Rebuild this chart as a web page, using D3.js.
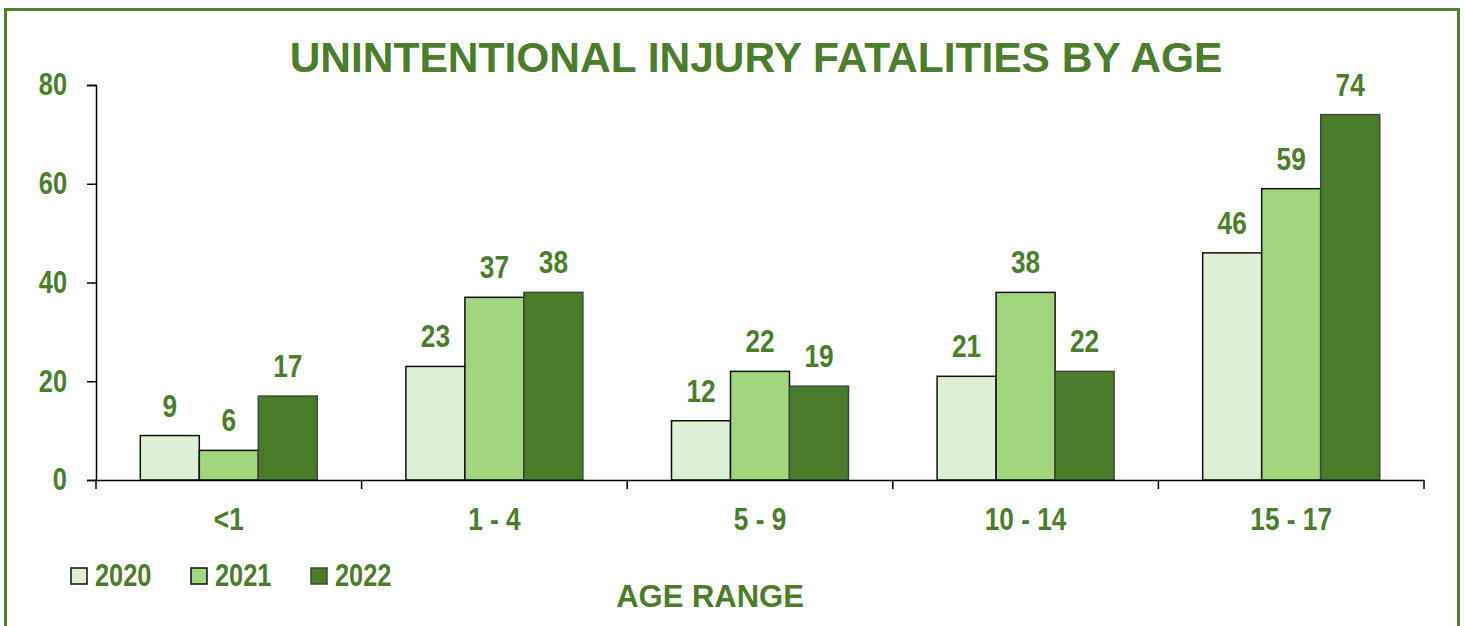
<!DOCTYPE html>
<html>
<head>
<meta charset="utf-8">
<script src="https://cdn.jsdelivr.net/npm/d3@7"></script>
<style>
  body { margin: 0; background: #fff; }
  svg { display: block; }
</style>
</head>
<body>
<script>
// data
const ageRanges = ["<1", "1 - 4", "5 - 9", "10 - 14", "15 - 17"];
const years = ["2020", "2021", "2022"];
const v2020 = [9, 23, 12, 21, 46];
const v2021 = [6, 37, 22, 38, 59];
const v2022 = [17, 38, 19, 22, 74];
const yTicks = [0, 20, 40, 60, 80];

const series = [v2020, v2021, v2022];
const fills = ["#ddf0d5", "#a1d57e", "#4a7b2a"];
const strokes = ["#111", "#111", "#3b4a3b"];
const green = "#4b7d2b";
const font = "'Liberation Sans', Arial, sans-serif";
// no narrow font installed, so squeeze the regular one
const sq = 0.82;

const width = 1465, height = 626;
const plotLeft = 96, plotRight = 1424, plotTop = 85, plotBottom = 480;

const svg = d3.select("body").append("svg")
  .attr("width", width)
  .attr("height", height)
  .attr("font-family", font)
  .attr("font-weight", "bold");

// frame (open at the bottom)
svg.append("path")
  .attr("d", `M5.5,${height} V9.5 H1458.5 V${height}`)
  .attr("fill", "none")
  .attr("stroke", "#548235")
  .attr("stroke-width", 3);

svg.append("text")
  .attr("x", 756).attr("y", 72)
  .attr("text-anchor", "middle")
  .attr("font-size", 42.5)
  .attr("fill", green)
  .text("UNINTENTIONAL INJURY FATALITIES BY AGE");

const x = d3.scaleBand().domain(ageRanges).range([plotLeft, plotRight]).padding(0);
const xs = d3.scaleBand().domain(years)
  .range([44.3, x.bandwidth() - 44.3]).padding(0);
const y = d3.scaleLinear().domain([0, 80]).range([plotBottom, plotTop]);

// bars
const groups = svg.append("g").selectAll("g")
  .data(ageRanges)
  .join("g")
  .attr("transform", d => `translate(${x(d)},0)`);

groups.selectAll("rect")
  .data((d, i) => series.map((s, k) => ({ year: years[k], k, v: s[i] })))
  .join("rect")
  .attr("x", d => xs(d.year))
  .attr("y", d => y(d.v))
  .attr("width", xs.bandwidth())
  .attr("height", d => y(0) - y(d.v))
  .attr("fill", d => fills[d.k])
  .attr("stroke", d => strokes[d.k])
  .attr("stroke-width", 1.5);

groups.selectAll("text.val")
  .data((d, i) => series.map((s, k) => ({ year: years[k], k, v: s[i] })))
  .join("text")
  .attr("class", "val")
  .attr("transform", `scale(${sq},1)`)
  .attr("x", d => (xs(d.year) + xs.bandwidth() / 2) / sq)
  .attr("y", d => y(d.v) - 19)
  .attr("text-anchor", "middle")
  .attr("font-size", 32)
  .attr("fill", green)
  .text(d => d.v);

// y axis
const yAxis = svg.append("g")
  .attr("transform", `translate(${plotLeft},0)`)
  .call(d3.axisLeft(y).tickValues(yTicks).tickSize(9).tickSizeOuter(9).tickPadding(20));
yAxis.selectAll("path, line").attr("stroke", "#000").attr("stroke-width", 1.5);
yAxis.selectAll("text")
  .attr("transform", `scale(${sq},1)`)
  .attr("x", -29 / sq)
  .attr("font-family", font)
  .attr("font-size", 31)
  .attr("fill", green);

// x axis
const xAxis = svg.append("g")
  .attr("transform", `translate(0,${plotBottom})`)
  .call(d3.axisBottom(x).tickSize(0).tickPadding(27));
xAxis.select(".domain").attr("stroke", "#000").attr("stroke-width", 1.5);
xAxis.selectAll("text")
  .attr("transform", `scale(${sq},1)`)
  .attr("font-family", font)
  .attr("font-size", 32)
  .attr("fill", green);
// category separators
svg.append("g").selectAll("line")
  .data(ageRanges.map(d => x(d)).concat([plotRight]))
  .join("line")
  .attr("x1", d => d).attr("x2", d => d)
  .attr("y1", plotBottom).attr("y2", plotBottom + 9)
  .attr("stroke", "#000").attr("stroke-width", 1.5);

// legend
const legend = svg.append("g").selectAll("g")
  .data(years)
  .join("g")
  .attr("transform", (d, i) => `translate(${71 + i * 120},568)`);
legend.append("rect")
  .attr("width", 16).attr("height", 16)
  .attr("fill", (d, i) => fills[i])
  .attr("stroke", (d, i) => strokes[i])
  .attr("stroke-width", 1.5);
legend.append("text")
  .attr("transform", `scale(${sq},1)`)
  .attr("x", 24 / sq).attr("y", 18)
  .attr("font-size", 31)
  .attr("fill", green)
  .text(d => d);

svg.append("text")
  .attr("x", 710).attr("y", 607)
  .attr("text-anchor", "middle")
  .attr("font-size", 31)
  .attr("fill", green)
  .text("AGE RANGE");
</script>
</body>
</html>
